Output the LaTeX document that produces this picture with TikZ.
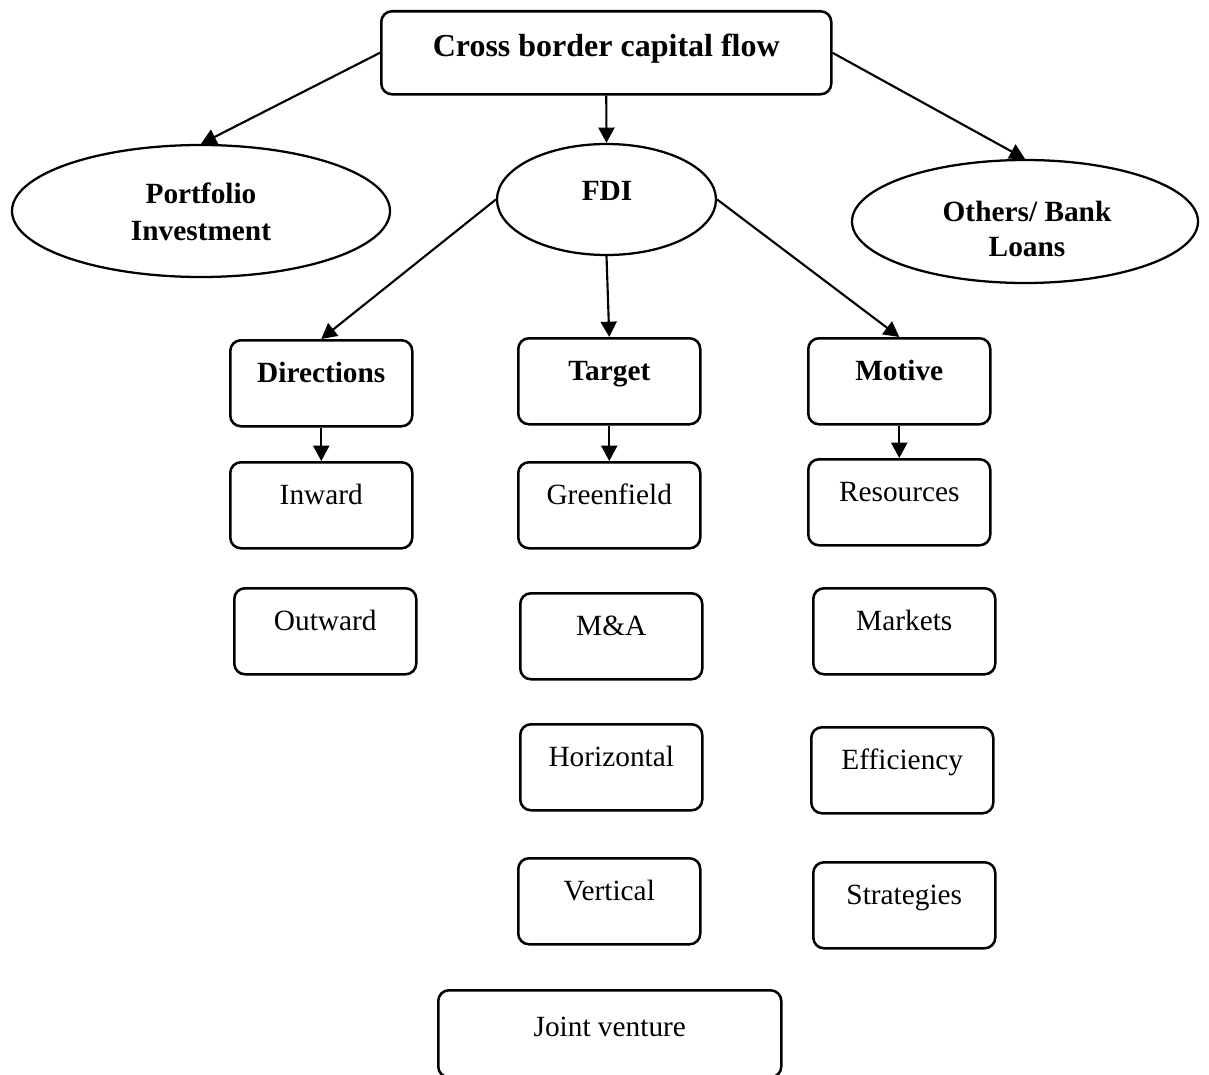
\documentclass[tikz,border=0pt]{standalone}
\usepackage{fontspec}
\setmainfont{Liberation Serif}
\usetikzlibrary{arrows.meta,shapes.geometric}
\tikzset{
  box/.style={draw, line width=1.9pt, rounded corners=8pt, anchor=north west,
    minimum width=136.5pt, inner xsep=0pt, inner ysep=0pt,
    text height=31.5pt, text depth=33pt, font=\fontsize{22pt}{26pt}\selectfont},
  boldbox/.style={box, font=\fontsize{22pt}{26pt}\selectfont\bfseries},
  oval/.style={draw, ellipse, line width=1.7pt, inner sep=0pt},
  ovaltext/.style={anchor=base, inner sep=0pt, font=\fontsize{22pt}{26pt}\selectfont\bfseries},
  arr/.style={line width=1.6pt, -{Triangle[length=11.5pt,width=12pt]}}
}
\begin{document}
\begin{tikzpicture}[x=0.75pt,y=-0.75pt]
\useasboundingbox (0,0) rectangle (1209,1074);
% top box
\node[box, minimum width=337.5pt, text height=33.75pt, text depth=28.5pt,
  font=\fontsize{24pt}{28pt}\selectfont\bfseries] (title) at (380,10) {Cross border capital flow};
% ellipses
\node[oval, minimum width=283.5pt, minimum height=99pt] (port) at (201,211) {};
\node[ovaltext] (port1) at (201,203) {Portfolio};
\node[ovaltext] (port2) at (201,240) {Investment};
\node[oval, minimum width=164.25pt, minimum height=83.25pt] (fdi) at (606.5,199.5) {};
\node[ovaltext] (fdit) at (607,200) {FDI};
\node[oval, minimum width=259.5pt, minimum height=92.25pt] (oth) at (1025,221.5) {};
\node[ovaltext] (oth1) at (1027,221) {Others/ Bank};
\node[ovaltext] (oth2) at (1027,256) {Loans};
% column 1
\node[boldbox] (dir) at (229,339) {Directions};
\node[box] (inw) at (229,461) {Inward};
\node[box] (outw) at (233,587) {Outward};
% column 2
\node[boldbox] (tar) at (517,337) {Target};
\node[box] (green) at (517,461) {Greenfield};
\node[box] (ma) at (519,592) {M\&A};
\node[box] (hor) at (519,723) {Horizontal};
\node[box] (ver) at (517,857) {Vertical};
\node[box, minimum width=257.25pt, text height=35pt, text depth=30.25pt] (jv) at (437,989) {Joint venture};
% column 3
\node[boldbox] (mot) at (807,337) {Motive};
\node[box] (res) at (807,458) {Resources};
\node[box] (mark) at (812,587) {Markets};
\node[box] (eff) at (810,726) {Efficiency};
\node[box] (strat) at (812,861) {Strategies};
% connectors
\draw[arr] (title.west) -- (port.north);
\draw[arr] (title.south) -- (fdi.north);
\draw[arr] (title.east) -- (oth.north);
\draw[arr] (fdi.west) -- (dir.north);
\draw[arr] (fdi.south) -- (tar.north);
\draw[arr] (fdi.east) -- (mot.north);
\draw[arr] (dir.south) -- (inw.north);
\draw[arr] (tar.south) -- (green.north);
\draw[arr] (mot.south) -- (res.north);
\end{tikzpicture}
\end{document}
